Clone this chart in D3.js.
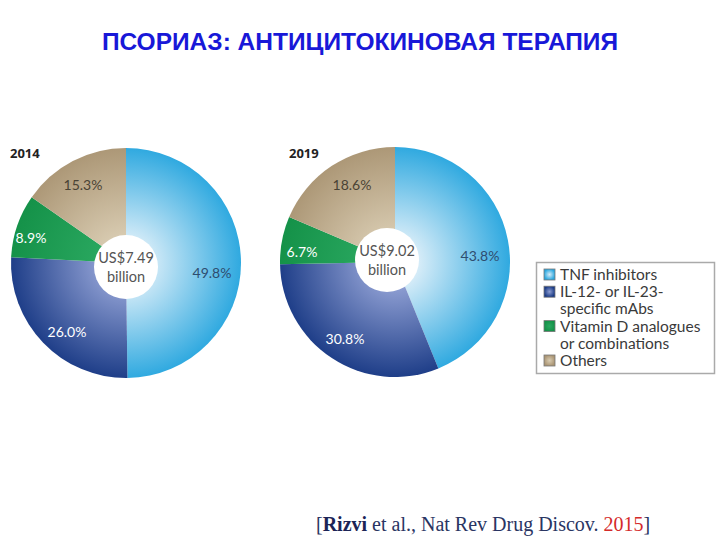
<!DOCTYPE html>
<html><head><meta charset="utf-8">
<script src="https://cdn.jsdelivr.net/npm/d3@7"></script>
<style>body{margin:0;background:#fff}</style>
</head><body>
<svg id="c" width="720" height="540"></svg>
<script>
const categories = ["TNF inhibitors", "IL-12- or IL-23-specific mAbs", "Vitamin D analogues or combinations", "Others"];
const legendLines = [["TNF inhibitors"], ["IL-12- or IL-23-", "specific mAbs"], ["Vitamin D analogues", "or combinations"], ["Others"]];
const years = ["2014", "2019"];
const values2014 = [49.8, 26.0, 8.9, 15.3];
const values2019 = [43.8, 30.8, 6.7, 18.6];
const totals = ["US$7.49", "US$9.02"];

const svg = d3.select("#c");
const defs = svg.append("defs");
const grads = [
  ["#d6ecf8", "#2aa7df"],
  ["#8f9fd3", "#1b3b86"],
  ["#2aa860", "#149148"],
  ["#d9ccb2", "#ab9675"]
];
grads.forEach((g, i) => {
  const rg = defs.append("radialGradient").attr("id", "g" + i)
    .attr("gradientUnits", "userSpaceOnUse").attr("cx", 0).attr("cy", 0).attr("r", 118);
  rg.append("stop").attr("offset", "0.2").attr("stop-color", g[0]);
  rg.append("stop").attr("offset", "1").attr("stop-color", g[1]);
  const lg = defs.append("radialGradient").attr("id", "l" + i);
  lg.append("stop").attr("offset", "0").attr("stop-color", g[0]);
  lg.append("stop").attr("offset", "1").attr("stop-color", g[1]);
});
const labelColors = ["#2e4d6f", "#ffffff", "#ffffff", "#4a4335"];

svg.append("text").attr("x", 360).attr("y", 50).attr("text-anchor", "middle")
  .attr("font-family", "Liberation Sans, Arial, sans-serif").attr("font-weight", "bold")
  .attr("font-size", 24.5).attr("fill", "#1818d8").text("ПСОРИАЗ: АНТИЦИТОКИНОВАЯ ТЕРАПИЯ");

const pie = d3.pie().sort(null).value(d => d);
const arc = d3.arc().innerRadius(0).outerRadius(115);
const centers = [[126, 263], [395, 262]];
const holes = [[0, 4], [-8, -2]];
const labelPos = [
  [[212, 278], [67, 337], [31, 243], [83, 190]],
  [[480, 261], [345, 344], [302, 257], [352, 190]]
];
const yearPos = [[10, 158], [289, 158]];

[values2014, values2019].forEach((vals, k) => {
  const g = svg.append("g").attr("transform", `translate(${centers[k][0]},${centers[k][1]})`);
  g.selectAll("path").data(pie(vals)).join("path")
    .attr("d", arc).attr("fill", (d, i) => `url(#g${i})`);
  const hx = holes[k][0], hy = holes[k][1];
  g.append("circle").attr("cx", hx).attr("cy", hy).attr("r", 32).attr("fill", "#fff");
  g.append("text").attr("x", hx).attr("y", hy - 4).attr("text-anchor", "middle")
    .attr("font-family", "Lato, sans-serif").attr("font-size", 14.5).attr("fill", "#555")
    .text(totals[k]);
  g.append("text").attr("x", hx).attr("y", hy + 15).attr("text-anchor", "middle")
    .attr("font-family", "Lato, sans-serif").attr("font-size", 14.5).attr("fill", "#555")
    .text("billion");
  svg.selectAll(null).data(vals).join("text")
    .attr("x", (d, i) => labelPos[k][i][0]).attr("y", (d, i) => labelPos[k][i][1])
    .attr("text-anchor", "middle").attr("font-family", "Lato, sans-serif").attr("font-size", 14)
    .attr("fill", (d, i) => labelColors[i]).text(d => d.toFixed(1) + "%");
  svg.append("text").attr("x", yearPos[k][0]).attr("y", yearPos[k][1])
    .attr("font-family", "Open Sans, sans-serif").attr("font-weight", "bold").attr("font-size", 13)
    .attr("fill", "#222").text(years[k]);
});

// legend
svg.append("rect").attr("x", 536.5).attr("y", 262.5).attr("width", 178).attr("height", 111)
  .attr("fill", "#fff").attr("stroke", "#aaa").attr("stroke-width", 1.5);
let y = 280;
legendLines.forEach((lines, i) => {
  svg.append("rect").attr("x", 544).attr("y", y - 11).attr("width", 11).attr("height", 11)
    .attr("fill", `url(#l${i})`).attr("stroke", "#777").attr("stroke-width", 0.8);
  lines.forEach((t, j) => {
    svg.append("text").attr("x", 560).attr("y", y + j * 17.2)
      .attr("font-family", "Lato, sans-serif").attr("font-size", 15.5).attr("fill", "#3a3a3a").text(t);
  });
  y += lines.length * 17.2;
});

// citation
const cit = svg.append("text").attr("x", 316).attr("y", 531)
  .attr("font-family", "Liberation Serif, Times New Roman, serif").attr("font-size", 20).attr("fill", "#2a3563");
cit.append("tspan").text("[");
cit.append("tspan").attr("font-weight", "bold").attr("fill", "#1c2456").text("Rizvi");
cit.append("tspan").text(" et al., Nat Rev Drug Discov. ");
cit.append("tspan").attr("fill", "#d42a2a").text("2015");
cit.append("tspan").text("]");
</script>
</body></html>
